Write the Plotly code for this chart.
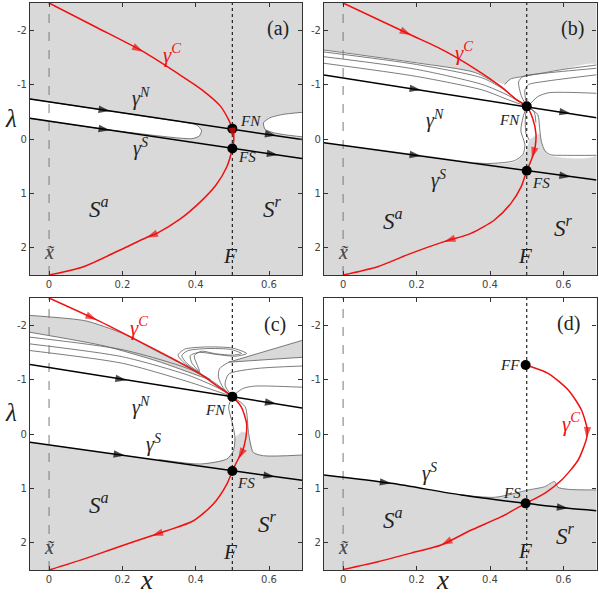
import plotly.graph_objects as go

# ---------------- shared axis data ----------------
x_range = [-0.052, 0.69]
lam_range = [2.5, -2.5]
x_ticks = [0, 0.2, 0.4, 0.6]
x_ticktext = ["0", "0.2", "0.4", "0.6"]
lam_ticks = [-2, -1, 0, 1, 2]
lam_ticktext = ["-2", "-1", "0", "1", "2"]
x_tilde = 0.0
F_x = 0.5

# ---------------- panel (a) ----------------
gN_a_x = [-0.052, 0.166, 0.5, 0.62, 0.69]
gN_a_l = [-0.735, -0.515, -0.19, -0.065, 0.01]
gS_a_x = [-0.052, 0.166, 0.5, 0.625, 0.69]
gS_a_l = [-0.38, -0.163, 0.175, 0.295, 0.36]
gC_a_x = [0, 0.13, 0.257, 0.352, 0.418, 0.468, 0.49, 0.5, 0.504, 0.5, 0.485, 0.455, 0.412,
          0.358, 0.294, 0.266, 0.194, 0.094, 0]
gC_a_l = [-2.5, -2.05, -1.605, -1.2, -0.9, -0.6, -0.35, -0.19, 0.0, 0.175, 0.509, 0.85,
          1.16, 1.47, 1.734, 1.81, 2.04, 2.347, 2.5]
wa1_x = [-0.052, 0.139, 0.375, 0.403, 0.416, 0.41, 0.389, 0.139, -0.052]
wa1_l = [-0.735, -0.54, -0.30, -0.257, -0.153, -0.055, -0.006, -0.19, -0.375]
wa2_x = [0.69, 0.639, 0.603, 0.585, 0.589, 0.612, 0.648, 0.69]
wa2_l = [-0.49, -0.453, -0.392, -0.300, -0.178, -0.116, -0.074, -0.04]

# ---------------- panel (b) ----------------
gN_b_x = [-0.052, 0.212, 0.5, 0.62, 0.69]
gN_b_l = [-1.176, -0.9, -0.6, -0.47, -0.39]
gS_b_x = [-0.052, 0.212, 0.5, 0.62, 0.69]
gS_b_l = [0.067, 0.313, 0.585, 0.695, 0.755]
gC_b_x = [0, 0.185, 0.275, 0.357, 0.43, 0.471, 0.5, 0.516, 0.525, 0.523, 0.514, 0.5, 0.485,
          0.457, 0.412, 0.348, 0.275, 0.185, 0.094, 0]
gC_b_l = [-2.5, -1.912, -1.624, -1.299, -0.962, -0.729, -0.6, -0.38, -0.104, 0.141, 0.36,
          0.585, 0.876, 1.183, 1.489, 1.734, 1.887, 2.102, 2.347, 2.5]
wb_x = [-0.052, 0.2, 0.36, 0.44, 0.455, 0.5, 0.6, 0.69, 0.69, 0.562, 0.544, 0.535, 0.52,
        0.507, 0.494, 0.466, 0.394, 0.2, -0.052]
wb_l = [-1.636, -1.40, -1.22, -1.0, -1.1, -1.16, -1.28, -1.36, 0.294, 0.294, 0.141, -0.1,
        -0.05, 0.02, 0.26, 0.417, 0.447, 0.27, 0.06]
b_lines = [
    ([-0.052, 0.2, 0.36, 0.43, 0.471, 0.5], [-1.636, -1.40, -1.22, -0.962, -0.729, -0.6]),
    ([-0.052, 0.2, 0.38, 0.44, 0.475, 0.5], [-1.60, -1.37, -1.12, -0.9, -0.71, -0.6]),
    ([-0.052, 0.2, 0.38, 0.45, 0.5], [-1.513, -1.28, -1.0, -0.8, -0.6]),
    ([-0.052, 0.2, 0.38, 0.45, 0.5], [-1.392, -1.15, -0.9, -0.72, -0.6]),
    ([0.69, 0.6, 0.5, 0.455, 0.44], [-1.36, -1.28, -1.16, -1.1, -1.0]),
    ([0.69, 0.55, 0.49, 0.478, 0.485, 0.5], [-1.30, -1.21, -1.15, -1.05, -0.8, -0.6]),
    ([0.69, 0.55, 0.505, 0.495, 0.5], [-1.18, -1.06, -1.0, -0.9, -0.6]),
    ([0.69, 0.56, 0.53, 0.51, 0.5], [-0.84, -0.85, -0.78, -0.65, -0.6]),
    ([0.5, 0.49, 0.484, 0.495, 0.49, 0.466, 0.4, 0.36], [-0.6, -0.4, -0.15, 0.1, 0.28, 0.4, 0.45, 0.44]),
    ([0.5, 0.496, 0.498, 0.507], [-0.6, -0.35, -0.1, 0.02]),
    ([0.5, 0.53, 0.535, 0.54, 0.55, 0.565, 0.6, 0.69], [-0.6, -0.45, -0.2, 0.05, 0.22, 0.29, 0.3, 0.3]),
    ([0.5, 0.52, 0.525], [-0.6, -0.5, -0.3]),
]

# ---------------- panel (c) ----------------
gN_c_x = [-0.052, 0.212, 0.5, 0.62, 0.69]
gN_c_l = [-1.276, -0.99, -0.687, -0.555, -0.48]
gS_c_x = [-0.052, 0.207, 0.5, 0.616, 0.69]
gS_c_l = [0.153, 0.397, 0.681, 0.785, 0.852]
gC_c_x = [0, 0.13, 0.25, 0.35, 0.412, 0.457, 0.5, 0.525, 0.539, 0.537, 0.528, 0.516, 0.5,
          0.485, 0.448, 0.394, 0.321, 0.28, 0.185, 0.094, 0]
gC_c_l = [-2.5, -2.098, -1.69, -1.34, -1.104, -0.89, -0.687, -0.49, -0.184, 0.061, 0.307,
          0.46, 0.681, 0.92, 1.288, 1.595, 1.779, 1.871, 2.086, 2.3, 2.5]
wc_x = [-0.052, 0.69, 0.69, 0.585, 0.557, 0.544, 0.525, 0.507, 0.503, 0.485, 0.412, 0.3, -0.052]
wc_l = [-2.5, -2.5, 0.387, 0.4, 0.337, -0.03, -0.05, 0.06, 0.307, 0.46, 0.552, 0.47, 0.15]
gwc1_x = [-0.052, 0.1, 0.2, 0.3, 0.41, 0.44, 0.3, 0.15, -0.052]
gwc1_l = [-2.18, -2.08, -1.85, -1.5, -1.12, -1.0, -1.33, -1.62, -1.87]
gwc2_x = [0.69, 0.49, 0.69]
gwc2_l = [-1.72, -1.32, -1.41]
c_lines = [
    ([-0.052, 0.2, 0.38, 0.45, 0.5], [-1.78, -1.55, -1.2, -0.95, -0.687]),
    ([-0.052, 0.2, 0.38, 0.46, 0.5], [-1.656, -1.42, -1.08, -0.85, -0.687]),
    ([-0.052, 0.2, 0.38, 0.46, 0.5], [-1.534, -1.3, -0.96, -0.78, -0.687]),
    ([0.49, 0.465, 0.462, 0.475, 0.5], [-1.32, -1.2, -1.05, -0.85, -0.687]),
    ([0.69, 0.56, 0.49, 0.48, 0.5], [-1.25, -1.2, -1.1, -0.9, -0.687]),
    ([0.69, 0.56, 0.53, 0.51, 0.5], [-0.86, -0.88, -0.84, -0.75, -0.687]),
    ([0.5, 0.49, 0.5, 0.507, 0.503, 0.485, 0.412, 0.3], [-0.687, -0.5, -0.2, 0.06, 0.307, 0.46, 0.552, 0.47]),
    ([0.5, 0.535, 0.544, 0.557, 0.585, 0.69], [-0.687, -0.5, -0.03, 0.337, 0.4, 0.387]),
    ([0.412, 0.37, 0.352, 0.37, 0.43, 0.5, 0.539, 0.51, 0.46, 0.41, 0.385, 0.39, 0.412],
     [-1.12, -1.3, -1.45, -1.56, -1.6, -1.58, -1.48, -1.43, -1.46, -1.5, -1.44, -1.3, -1.12]),
    ([0.41, 0.376, 0.362, 0.378, 0.43, 0.495, 0.525, 0.5, 0.455, 0.415, 0.396, 0.41],
     [-1.15, -1.3, -1.44, -1.53, -1.57, -1.555, -1.48, -1.45, -1.475, -1.52, -1.44, -1.15]),
]

# ---------------- panel (d) ----------------
gS_d_x = [-0.052, 0.131, 0.322, 0.497, 0.613, 0.69]
gS_d_l = [0.754, 0.907, 1.121, 1.275, 1.366, 1.41]
gC_d_x = [0.497, 0.558, 0.613, 0.649, 0.665, 0.663, 0.64, 0.595, 0.549, 0.497, 0.431, 0.349,
          0.267, 0.185, 0.095, 0]
gC_d_l = [-1.268, -1.115, -0.809, -0.441, -0.074, 0.08, 0.478, 0.846, 1.091, 1.275, 1.52,
          1.765, 2.04, 2.19, 2.347, 2.49]
wd_x = [-0.052, 0.69, 0.69, 0.613, 0.585, 0.576, 0.549, 0.504, 0.413, 0.322, 0.131, -0.052]
wd_l = [-2.5, -2.5, 1.03, 1.017, 0.98, 0.876, 0.968, 1.03, 1.164, 1.121, 0.907, 0.754]
d_lines = [
    ([0.322, 0.413, 0.504, 0.549, 0.576, 0.585, 0.613, 0.69], [1.121, 1.164, 1.03, 0.968, 0.876, 0.98, 1.017, 1.03]),
]

# ---------------- special points ----------------
pts = {
    1: ([0.5, 0.5], [-0.19, 0.175]),
    2: ([0.5, 0.5], [-0.6, 0.585]),
    3: ([0.5, 0.5], [-0.687, 0.681]),
    4: ([0.497, 0.497], [-1.268, 1.275]),
}

RED = "#f01010"
GRAYLINE = "#5a5a5a"
BG = "#d9d9d9"
SERIF = "Liberation Serif"

fig = go.Figure()
arrow_queue = []


def ax(p):
    return ("x" if p == 1 else f"x{p}"), ("y" if p == 1 else f"y{p}")


def poly(p, xs, ls, fill, outline=True, spline=True):
    xa, ya = ax(p)
    fig.add_trace(go.Scatter(x=xs, y=ls, xaxis=xa, yaxis=ya, mode="lines", fill="toself",
                             fillcolor=fill,
                             line=dict(color=GRAYLINE if outline else fill, width=0.8,
                                       shape="spline" if spline else "linear", smoothing=0.6),
                             hoverinfo="skip", showlegend=False))


def curve(p, xs, ls, color, width, arrows=(), spline=False, dash=None):
    xa, ya = ax(p)
    fig.add_trace(go.Scatter(x=xs, y=ls, xaxis=xa, yaxis=ya, mode="lines",
                             line=dict(color=color, width=width, dash=dash,
                                       shape="spline" if spline else "linear", smoothing=0.7),
                             hoverinfo="skip", showlegend=False))
    if arrows:
        ax_x, ax_l, sz = [], [], []
        for i in arrows:
            ax_x += [xs[i - 1], xs[i]]
            ax_l += [ls[i - 1], ls[i]]
            sz += [0, 12]
        arrow_queue.append((p, ax_x, ax_l, sz, color))


# panel (a)
poly(1, wa1_x, wa1_l, "white")
poly(1, wa2_x, wa2_l, "white")
# panel (b)
poly(2, wb_x, wb_l, "white", outline=False)
for lx, ll in b_lines:
    curve(2, lx, ll, GRAYLINE, 0.8, spline=True)
# panel (c)
poly(3, wc_x, wc_l, "white", outline=False, spline=False)
poly(3, gwc1_x, gwc1_l, BG)
poly(3, gwc2_x, gwc2_l, BG, spline=False)
for lx, ll in c_lines:
    curve(3, lx, ll, GRAYLINE, 0.8, spline=True)
# panel (d)
poly(4, wd_x, wd_l, "white", outline=False, spline=False)
for lx, ll in d_lines:
    curve(4, lx, ll, GRAYLINE, 0.8, spline=True)

# vertical guide lines
for p in (1, 2, 3, 4):
    curve(p, [x_tilde, x_tilde], lam_range, "#7a7a7a", 1, dash="dash")
    curve(p, [F_x, F_x], lam_range, "#222222", 1.2, dash="dot")

# black trajectories
curve(1, gN_a_x, gN_a_l, "black", 1.5, arrows=(1, 3))
curve(1, gS_a_x, gS_a_l, "black", 1.5, arrows=(1, 3))
curve(2, gN_b_x, gN_b_l, "black", 1.5, arrows=(1, 3))
curve(2, gS_b_x, gS_b_l, "black", 1.5, arrows=(1, 3))
curve(3, gN_c_x, gN_c_l, "black", 1.5, arrows=(1, 3))
curve(3, gS_c_x, gS_c_l, "black", 1.5, arrows=(1, 3))
curve(4, gS_d_x, gS_d_l, "black", 1.5, arrows=(1, 4), spline=True)

# red critical curves
curve(1, gC_a_x, gC_a_l, RED, 1.5, arrows=(2, 8, 15), spline=True)
curve(2, gC_b_x, gC_b_l, RED, 1.5, arrows=(1, 10, 16), spline=True)
curve(3, gC_c_x, gC_c_l, RED, 1.5, arrows=(1, 11, 17), spline=True)
curve(4, gC_d_x, gC_d_l, RED, 1.5, arrows=(5, 12), spline=True)

for p, (px, pl) in pts.items():
    xa, ya = ax(p)
    fig.add_trace(go.Scatter(x=px, y=pl, xaxis=xa, yaxis=ya, mode="markers",
                             marker=dict(color="black", size=10), hoverinfo="skip",
                             showlegend=False))

for p, axx, all_, sz, col in arrow_queue:
    xa, ya = ax(p)
    fig.add_trace(go.Scatter(x=axx, y=all_, xaxis=xa, yaxis=ya, mode="markers",
                             marker=dict(symbol="arrow", angleref="previous", size=sz,
                                         color=col, line=dict(width=0)),
                             hoverinfo="skip", showlegend=False))

# ---------------- labels ----------------
labels = {
    1: [("(a)", 0.625, -2.03, 20, "#222"), ("<i>γ<sup>C</sup></i>", 0.335, -1.58, 21, RED),
        ("<i>γ<sup>N</sup></i>", 0.25, -0.77, 20, "#222"), ("<i>γ<sup>S</sup></i>", 0.25, 0.16, 20, "#222"),
        ("<i>FN</i>", 0.55, -0.33, 15, "#222"), ("<i>FS</i>", 0.54, 0.33, 15, "#222"),
        ("<i>S<sup>a</sup></i>", 0.135, 1.25, 23, "#222"), ("<i>S<sup>r</sup></i>", 0.61, 1.25, 23, "#222"),
        ("<i>x̃</i>", 0.0, 2.08, 20, "#444"), ("<i>F</i>", 0.494, 2.15, 21, "#222")],
    2: [("(b)", 0.625, -2.03, 20, "#222"), ("<i>γ<sup>C</sup></i>", 0.33, -1.6, 21, RED),
        ("<i>γ<sup>N</sup></i>", 0.25, -0.36, 20, "#222"), ("<i>γ<sup>S</sup></i>", 0.26, 0.74, 20, "#222"),
        ("<i>FN</i>", 0.453, -0.35, 15, "#222"), ("<i>FS</i>", 0.538, 0.8, 15, "#222"),
        ("<i>S<sup>a</sup></i>", 0.135, 1.48, 23, "#222"), ("<i>S<sup>r</sup></i>", 0.6, 1.6, 23, "#222"),
        ("<i>x̃</i>", 0.0, 2.08, 20, "#444"), ("<i>F</i>", 0.494, 2.15, 21, "#222")],
    3: [("(c)", 0.615, -2.02, 20, "#222"), ("<i>γ<sup>C</sup></i>", 0.245, -1.98, 21, RED),
        ("<i>γ<sup>N</sup></i>", 0.25, -0.5, 20, "#222"), ("<i>γ<sup>S</sup></i>", 0.285, 0.17, 20, "#222"),
        ("<i>FN</i>", 0.453, -0.44, 15, "#222"), ("<i>FS</i>", 0.538, 0.9, 15, "#222"),
        ("<i>S<sup>a</sup></i>", 0.135, 1.28, 23, "#222"), ("<i>S<sup>r</sup></i>", 0.595, 1.62, 23, "#222"),
        ("<i>x̃</i>", 0.0, 2.08, 20, "#444"), ("<i>F</i>", 0.494, 2.17, 21, "#222")],
    4: [("(d)", 0.615, -2.03, 20, "#222"), ("<i>FF</i>", 0.455, -1.27, 15, "#222"),
        ("<i>γ<sup>C</sup></i>", 0.62, -0.22, 21, RED), ("<i>γ<sup>S</sup></i>", 0.235, 0.7, 20, "#222"),
        ("<i>FS</i>", 0.46, 1.08, 15, "#222"),
        ("<i>S<sup>a</sup></i>", 0.135, 1.56, 23, "#222"), ("<i>S<sup>r</sup></i>", 0.605, 1.84, 23, "#222"),
        ("<i>x̃</i>", 0.0, 2.08, 20, "#444"), ("<i>F</i>", 0.494, 2.15, 21, "#222")],
}
annotations = []
for p, items in labels.items():
    xa, ya = ax(p)
    for txt, lx, ly, sz, col in items:
        annotations.append(dict(text=txt, x=lx, y=ly, xref=xa, yref=ya, showarrow=False,
                                xanchor="center", yanchor="middle",
                                font=dict(family=SERIF, size=sz, color=col)))
for yy in (0.800, 0.306):
    annotations.append(dict(text="<i>λ</i>", x=0.019, y=yy, xref="paper", yref="paper",
                            xanchor="center", yanchor="middle",
                            showarrow=False, font=dict(family=SERIF, size=25, color="#222")))
for xx in (0.245, 0.738):
    annotations.append(dict(text="<i>x</i>", x=xx, y=0.026, xref="paper", yref="paper",
                            xanchor="center", yanchor="middle",
                            showarrow=False, font=dict(family=SERIF, size=27, color="#222")))

dom_x = {1: [30 / 599, 302 / 599], 2: [324 / 599, 596.5 / 599],
         3: [30 / 599, 302 / 599], 4: [324 / 599, 596.5 / 599]}
dom_y = {1: [1 - 275 / 595, 1 - 3 / 595], 2: [1 - 275 / 595, 1 - 3 / 595],
         3: [1 - 570 / 595, 1 - 298 / 595], 4: [1 - 570 / 595, 1 - 298 / 595]}

layout = dict(width=599, height=595, margin=dict(l=0, r=0, t=0, b=0),
              paper_bgcolor="white", plot_bgcolor=BG, showlegend=False,
              annotations=annotations)
tickfont = dict(family="DejaVu Sans", size=10, color="#444")
for p in (1, 2, 3, 4):
    xk = "xaxis" if p == 1 else f"xaxis{p}"
    yk = "yaxis" if p == 1 else f"yaxis{p}"
    xa, ya = ax(p)
    common = dict(showline=True, mirror="ticks", linecolor="#333", linewidth=1.2,
                  ticks="inside", ticklen=4, tickcolor="#333", tickwidth=1,
                  showgrid=False, zeroline=False, tickfont=tickfont)
    layout[xk] = dict(domain=dom_x[p], range=x_range, anchor=ya, tickmode="array",
                      tickvals=x_ticks, ticktext=x_ticktext, **common)
    layout[yk] = dict(domain=dom_y[p], range=lam_range, anchor=xa, tickmode="array",
                      tickvals=lam_ticks, ticktext=lam_ticktext, **common)

fig.update_layout(**layout)
fig.write_html("out.html", config={"displayModeBar": False},
               post_script="document.body.style.margin='0';document.body.style.overflow='hidden';")
